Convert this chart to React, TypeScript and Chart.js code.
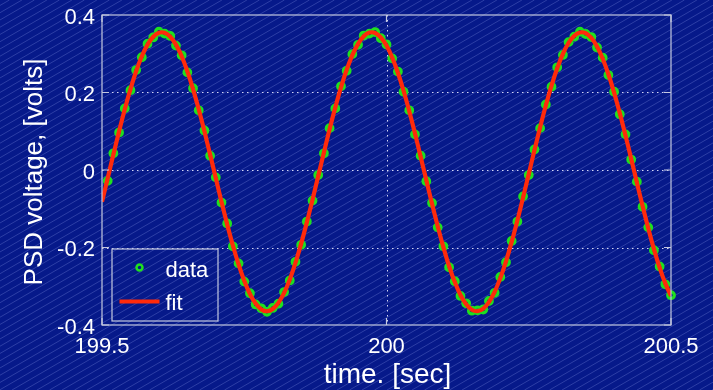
import React, { useEffect, useRef } from 'react';
import { Chart, registerables } from 'chart.js';

Chart.register(...registerables);

// Sample times [sec]
const fitTimes = [
  199.50, 199.51, 199.52, 199.53, 199.54, 199.55, 199.56, 199.57, 199.58, 199.59,
  199.60, 199.61, 199.62, 199.63, 199.64, 199.65, 199.66, 199.67, 199.68, 199.69,
  199.70, 199.71, 199.72, 199.73, 199.74, 199.75, 199.76, 199.77, 199.78, 199.79,
  199.80, 199.81, 199.82, 199.83, 199.84, 199.85, 199.86, 199.87, 199.88, 199.89,
  199.90, 199.91, 199.92, 199.93, 199.94, 199.95, 199.96, 199.97, 199.98, 199.99,
  200.00, 200.01, 200.02, 200.03, 200.04, 200.05, 200.06, 200.07, 200.08, 200.09,
  200.10, 200.11, 200.12, 200.13, 200.14, 200.15, 200.16, 200.17, 200.18, 200.19,
  200.20, 200.21, 200.22, 200.23, 200.24, 200.25, 200.26, 200.27, 200.28, 200.29,
  200.30, 200.31, 200.32, 200.33, 200.34, 200.35, 200.36, 200.37, 200.38, 200.39,
  200.40, 200.41, 200.42, 200.43, 200.44, 200.45, 200.46, 200.47, 200.48, 200.49,
  200.50,
];

// Fitted sinusoid [volts], one value per fit time
const fitVolts = [
  -0.0819, -0.0212, 0.0400, 0.0999, 0.1567, 0.2089, 0.2550, 0.2935, 0.3234, 0.3438,
  0.3542, 0.3542, 0.3438, 0.3234, 0.2935, 0.2550, 0.2089, 0.1567, 0.0999, 0.0400,
  -0.0212, -0.0819, -0.1403, -0.1948, -0.2438, -0.2859, -0.3199, -0.3447, -0.3598, -0.3645,
  -0.3588, -0.3429, -0.3172, -0.2825, -0.2397, -0.1901, -0.1352, -0.0765, -0.0157, 0.0454,
  0.1051, 0.1616, 0.2133, 0.2587, 0.2965, 0.3256, 0.3452, 0.3546, 0.3537, 0.3424,
  0.3211, 0.2904, 0.2511, 0.2045, 0.1518, 0.0946, 0.0345, -0.0267, -0.0872, -0.1454,
  -0.1995, -0.2479, -0.2893, -0.3225, -0.3465, -0.3606, -0.3644, -0.3578, -0.3410, -0.3145,
  -0.2790, -0.2355, -0.1854, -0.1301, -0.0711, -0.0102, 0.0508, 0.1103, 0.1664, 0.2176,
  0.2624, 0.2995, 0.3278, 0.3464, 0.3550, 0.3531, 0.3409, 0.3187, 0.2872, 0.2472,
  0.1999, 0.1468, 0.0893, 0.0291, -0.0321, -0.0925, -0.1504, -0.2041, -0.2519, -0.2926,
  -0.3250,
];

// Measured PSD voltage [volts], sampled from 199.51 s onward
const dataTimes = fitTimes.slice(1);
const dataVolts = [
  -0.028, 0.043, 0.097, 0.159, 0.206, 0.258, 0.291, 0.326, 0.342, 0.357,
  0.352, 0.346, 0.321, 0.296, 0.252, 0.211, 0.154, 0.102, 0.037, -0.019,
  -0.084, -0.138, -0.197, -0.241, -0.288, -0.318, -0.347, -0.357, -0.366, -0.356,
  -0.345, -0.315, -0.285, -0.237, -0.193, -0.133, -0.079, -0.013, 0.043, 0.108,
  0.159, 0.216, 0.256, 0.299, 0.323, 0.347, 0.352, 0.356, 0.340, 0.324,
  0.288, 0.254, 0.202, 0.154, 0.092, 0.037, -0.029, -0.085, -0.148, -0.197,
  -0.251, -0.287, -0.325, -0.344, -0.363, -0.362, -0.360, -0.338, -0.317, -0.276,
  -0.238, -0.183, -0.133, -0.068, -0.013, 0.053, 0.108, 0.169, 0.215, 0.265,
  0.297, 0.330, 0.344, 0.357, 0.351, 0.343, 0.316, 0.290, 0.245, 0.202,
  0.144, 0.092, 0.027, -0.030, -0.095, -0.148, -0.207, -0.249, -0.295, -0.323,
];

const xTicks = [199.5, 200, 200.5];
const xTickLabels = ['199.5', '200', '200.5'];
const yTicks = [-0.4, -0.2, 0, 0.2, 0.4];
const yTickLabels = ['-0.4', '-0.2', '0', '0.2', '0.4'];

const xTitle = 'time. [sec]';
const yTitle = 'PSD voltage, [volts]';
const legendLabels = ['data', 'fit'];

const W = 713;
const H = 390;
const BG = '#06198a';
const FRAME = '#c4c8e0';
const GREEN = '#1fe01f';
const RED = '#ff2a0a';
const FONT = '"Liberation Sans", Arial, sans-serif';

const decorPlugin = {
  id: 'decor',
  beforeDraw(chart: any) {
    const ctx = chart.ctx;
    ctx.save();
    ctx.fillStyle = BG;
    ctx.fillRect(0, 0, W, H);
    // diagonal hatch over the whole figure
    ctx.strokeStyle = 'rgba(170,185,255,0.24)';
    ctx.lineWidth = 1;
    const slope = 0.58;
    const gap = 12.5;
    for (let c = -W; c < W + H / slope; c += gap) {
      ctx.beginPath();
      ctx.moveTo(c, H);
      ctx.lineTo(c + H / slope, 0);
      ctx.stroke();
    }
    ctx.restore();
  },
  beforeDatasetsDraw(chart: any) {
    const ctx = chart.ctx;
    const { left, right, top, bottom } = chart.chartArea;
    const xs = chart.scales.x;
    const ys = chart.scales.y;
    ctx.save();
    ctx.strokeStyle = 'rgba(235,235,255,0.9)';
    ctx.lineWidth = 1;
    ctx.setLineDash([1.5, 3.5]);
    yTicks.forEach((v) => {
      if (v === yTicks[0] || v === yTicks[yTicks.length - 1]) return;
      const y = Math.round(ys.getPixelForValue(v)) + 0.5;
      ctx.beginPath();
      ctx.moveTo(left, y);
      ctx.lineTo(right, y);
      ctx.stroke();
    });
    xTicks.forEach((v) => {
      if (v === xTicks[0] || v === xTicks[xTicks.length - 1]) return;
      const x = Math.round(xs.getPixelForValue(v)) + 0.5;
      ctx.beginPath();
      ctx.moveTo(x, top);
      ctx.lineTo(x, bottom);
      ctx.stroke();
    });
    ctx.restore();
  },
  afterDatasetsDraw(chart: any) {
    const ctx = chart.ctx;
    const { left, right, top, bottom } = chart.chartArea;
    const xs = chart.scales.x;
    const ys = chart.scales.y;
    ctx.save();
    // axes box
    ctx.strokeStyle = FRAME;
    ctx.lineWidth = 1.2;
    ctx.strokeRect(left, top, right - left, bottom - top);
    // inward tick marks on all four sides
    const tl = 7;
    ctx.beginPath();
    yTicks.forEach((v) => {
      const y = ys.getPixelForValue(v);
      ctx.moveTo(left, y);
      ctx.lineTo(left + tl, y);
      ctx.moveTo(right, y);
      ctx.lineTo(right - tl, y);
    });
    xTicks.forEach((v) => {
      const x = xs.getPixelForValue(v);
      ctx.moveTo(x, top);
      ctx.lineTo(x, top + tl);
      ctx.moveTo(x, bottom);
      ctx.lineTo(x, bottom - tl);
    });
    ctx.stroke();

    // tick labels
    ctx.fillStyle = '#ffffff';
    ctx.font = `22px ${FONT}`;
    ctx.textAlign = 'right';
    ctx.textBaseline = 'alphabetic';
    yTicks.forEach((v, i) => {
      ctx.fillText(yTickLabels[i], left - 7, ys.getPixelForValue(v) + 8.5);
    });
    ctx.textAlign = 'center';
    xTicks.forEach((v, i) => {
      ctx.fillText(xTickLabels[i], xs.getPixelForValue(v), bottom + 27.5);
    });

    // axis titles
    ctx.font = `28px ${FONT}`;
    ctx.fillText(xTitle, (left + right) / 2 + 1, bottom + 58);
    ctx.save();
    ctx.font = `26px ${FONT}`;
    ctx.translate(42, (top + bottom) / 2 + 2);
    ctx.rotate(-Math.PI / 2);
    ctx.fillText(yTitle, 0, 0);
    ctx.restore();

    // legend
    const lx = left + 10;
    const ly = bottom - 76;
    const lw = 106;
    const lh = 72;
    ctx.strokeStyle = FRAME;
    ctx.lineWidth = 1.2;
    ctx.strokeRect(lx, ly, lw, lh);
    ctx.strokeStyle = GREEN;
    ctx.lineWidth = 2.5;
    ctx.beginPath();
    ctx.arc(lx + 27.5, ly + 18.5, 3, 0, Math.PI * 2);
    ctx.stroke();
    ctx.strokeStyle = RED;
    ctx.lineWidth = 4;
    ctx.beginPath();
    ctx.moveTo(lx + 7.5, ly + 52.5);
    ctx.lineTo(lx + 47.5, ly + 52.5);
    ctx.stroke();
    ctx.fillStyle = '#ffffff';
    ctx.font = `22px ${FONT}`;
    ctx.textAlign = 'left';
    ctx.fillText(legendLabels[0], lx + 53.5, ly + 28);
    ctx.fillText(legendLabels[1], lx + 53.5, ly + 61);
    ctx.restore();
  },
};

export default function App() {
  const canvasRef = useRef<HTMLCanvasElement | null>(null);

  useEffect(() => {
    const canvas = canvasRef.current;
    if (!canvas) return;
    const chart = new Chart(canvas, {
      type: 'line',
      data: {
        datasets: [
          {
            label: legendLabels[0],
            data: dataTimes.map((t, i) => ({ x: t, y: dataVolts[i] })),
            showLine: false,
            pointStyle: 'circle',
            pointRadius: 3.3,
            pointBorderWidth: 3.2,
            pointBorderColor: GREEN,
            pointBackgroundColor: 'rgba(0,0,0,0)',
            borderColor: GREEN,
            order: 2,
            clip: false,
          },
          {
            label: legendLabels[1],
            data: fitTimes.map((t, i) => ({ x: t, y: fitVolts[i] })),
            borderColor: RED,
            borderWidth: 4.2,
            pointRadius: 0,
            tension: 0.3,
            fill: false,
            order: 1,
          },
        ],
      },
      options: {
        animation: false,
        responsive: false,
        devicePixelRatio: 1,
        layout: { padding: { left: 102, top: 15, right: 42, bottom: 65 } },
        plugins: { legend: { display: false }, tooltip: { enabled: false } },
        events: [],
        scales: {
          x: { type: 'linear', min: 199.5, max: 200.5, display: false },
          y: { type: 'linear', min: -0.4, max: 0.4, display: false },
        },
      },
      plugins: [decorPlugin],
    });
    return () => chart.destroy();
  }, []);

  return (
    <div style={{ position: 'fixed', left: 0, top: 0, width: W, height: H }}>
      <canvas ref={canvasRef} width={W} height={H} style={{ display: 'block', width: W, height: H }} />
    </div>
  );
}
